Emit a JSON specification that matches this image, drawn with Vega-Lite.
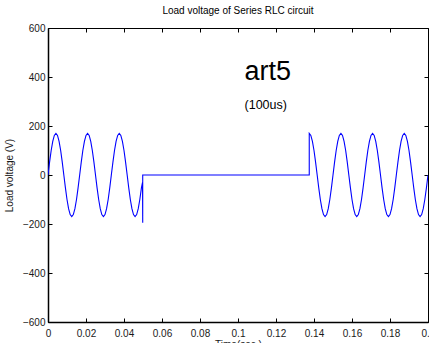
{
  "$schema": "https://vega.github.io/schema/vega-lite/v6.json",
  "autosize": "none",
  "width": 380,
  "height": 294,
  "padding": {"left": 48, "top": 28, "right": 1, "bottom": 21},
  "background": "white",
  "config": {
    "font": "Liberation Sans",
    "view": {"stroke": "black", "strokeWidth": 1},
    "axis": {
      "grid": false,
      "domain": false,
      "tickColor": "black",
      "tickSize": -4,
      "labelColor": "#1a1a1a",
      "titleColor": "#1a1a1a",
      "labelFontSize": 10,
      "titleFontSize": 10,
      "titleFontWeight": "normal",
      "labelFont": "Liberation Sans",
      "titleFont": "Liberation Sans"
    }
  },
  "title": {"text": "Load voltage of Series RLC circuit", "fontSize": 10, "fontWeight": "normal", "font": "Liberation Sans", "color": "black", "offset": 7},
  "layer": [
    {
      "data": {"values": [
        {"t":0,"v":0},{"t":0.00083,"v":52.5},{"t":0.00167,"v":99.9},{"t":0.0025,"v":137.5},{"t":0.00333,"v":161.7},{"t":0.00417,"v":170},{"t":0.005,"v":161.7},{"t":0.00583,"v":137.5},{"t":0.00667,"v":99.9},{"t":0.0075,"v":52.5},
        {"t":0.00833,"v":0},{"t":0.00917,"v":-52.5},{"t":0.01,"v":-99.9},{"t":0.01083,"v":-137.5},{"t":0.01167,"v":-161.7},{"t":0.0125,"v":-170},{"t":0.01333,"v":-161.7},{"t":0.01417,"v":-137.5},{"t":0.015,"v":-99.9},{"t":0.01583,"v":-52.5},
        {"t":0.01667,"v":0},{"t":0.0175,"v":52.5},{"t":0.01833,"v":99.9},{"t":0.01917,"v":137.5},{"t":0.02,"v":161.7},{"t":0.02083,"v":170},{"t":0.02167,"v":161.7},{"t":0.0225,"v":137.5},{"t":0.02333,"v":99.9},{"t":0.02417,"v":52.5},
        {"t":0.025,"v":0},{"t":0.02583,"v":-52.5},{"t":0.02667,"v":-99.9},{"t":0.0275,"v":-137.5},{"t":0.02833,"v":-161.7},{"t":0.02917,"v":-170},{"t":0.03,"v":-161.7},{"t":0.03083,"v":-137.5},{"t":0.03167,"v":-99.9},{"t":0.0325,"v":-52.5},
        {"t":0.03333,"v":0},{"t":0.03417,"v":52.5},{"t":0.035,"v":99.9},{"t":0.03583,"v":137.5},{"t":0.03667,"v":161.7},{"t":0.0375,"v":170},{"t":0.03833,"v":161.7},{"t":0.03917,"v":137.5},{"t":0.04,"v":99.9},{"t":0.04083,"v":52.5},
        {"t":0.04167,"v":0},{"t":0.0425,"v":-52.5},{"t":0.04333,"v":-99.9},{"t":0.04417,"v":-137.5},{"t":0.045,"v":-161.7},{"t":0.04583,"v":-170},{"t":0.04667,"v":-161.7},{"t":0.0475,"v":-137.5},{"t":0.04833,"v":-99.9},{"t":0.04917,"v":-52.5},
        {"t":0.04975,"v":-30},{"t":0.04985,"v":-195},{"t":0.04985,"v":0},{"t":0.1375,"v":0},
        {"t":0.1375,"v":170},{"t":0.13833,"v":161.7},{"t":0.13917,"v":137.5},{"t":0.14,"v":99.9},{"t":0.14083,"v":52.5},
        {"t":0.14167,"v":0},{"t":0.1425,"v":-52.5},{"t":0.14333,"v":-99.9},{"t":0.14417,"v":-137.5},{"t":0.145,"v":-161.7},{"t":0.14583,"v":-170},{"t":0.14667,"v":-161.7},{"t":0.1475,"v":-137.5},{"t":0.14833,"v":-99.9},{"t":0.14917,"v":-52.5},
        {"t":0.15,"v":0},{"t":0.15083,"v":52.5},{"t":0.15167,"v":99.9},{"t":0.1525,"v":137.5},{"t":0.15333,"v":161.7},{"t":0.15417,"v":170},{"t":0.155,"v":161.7},{"t":0.15583,"v":137.5},{"t":0.15667,"v":99.9},{"t":0.1575,"v":52.5},
        {"t":0.15833,"v":0},{"t":0.15917,"v":-52.5},{"t":0.16,"v":-99.9},{"t":0.16083,"v":-137.5},{"t":0.16167,"v":-161.7},{"t":0.1625,"v":-170},{"t":0.16333,"v":-161.7},{"t":0.16417,"v":-137.5},{"t":0.165,"v":-99.9},{"t":0.16583,"v":-52.5},
        {"t":0.16667,"v":0},{"t":0.1675,"v":52.5},{"t":0.16833,"v":99.9},{"t":0.16917,"v":137.5},{"t":0.17,"v":161.7},{"t":0.17083,"v":170},{"t":0.17167,"v":161.7},{"t":0.1725,"v":137.5},{"t":0.17333,"v":99.9},{"t":0.17417,"v":52.5},
        {"t":0.175,"v":0},{"t":0.17583,"v":-52.5},{"t":0.17667,"v":-99.9},{"t":0.1775,"v":-137.5},{"t":0.17833,"v":-161.7},{"t":0.17917,"v":-170},{"t":0.18,"v":-161.7},{"t":0.18083,"v":-137.5},{"t":0.18167,"v":-99.9},{"t":0.1825,"v":-52.5},
        {"t":0.18333,"v":0},{"t":0.18417,"v":52.5},{"t":0.185,"v":99.9},{"t":0.18583,"v":137.5},{"t":0.18667,"v":161.7},{"t":0.1875,"v":170},{"t":0.18833,"v":161.7},{"t":0.18917,"v":137.5},{"t":0.19,"v":99.9},{"t":0.19083,"v":52.5},
        {"t":0.19167,"v":0},{"t":0.1925,"v":-52.5},{"t":0.19333,"v":-99.9},{"t":0.19417,"v":-137.5},{"t":0.195,"v":-161.7},{"t":0.19583,"v":-170},{"t":0.19667,"v":-161.7},{"t":0.1975,"v":-137.5},{"t":0.19833,"v":-99.9},{"t":0.19917,"v":-52.5},
        {"t":0.2,"v":0}
      ]},
      "mark": {"type": "line", "color": "#0000ff", "strokeWidth": 1.1, "clip": true},
      "encoding": {
        "x": {"field": "t", "type": "quantitative", "scale": {"domain": [0, 0.2], "nice": false, "zero": false},
              "axis": {"title": "Time(sec.)", "format": "~g", "values": [0,0.02,0.04,0.06,0.08,0.1,0.12,0.14,0.16,0.18,0.2], "labelPadding": 10, "titlePadding": 1, "labelFlush": false, "labelOverlap": false, "domain": true, "domainColor": "black", "domainWidth": 1.5}},
        "y": {"field": "v", "type": "quantitative", "scale": {"domain": [-600, 600], "nice": false},
              "axis": {"title": "Load voltage (V)", "values": [-600,-400,-200,0,200,400,600], "labelPadding": 7, "titlePadding": 8, "labelFlush": false, "labelOverlap": false, "domain": true, "domainColor": "black", "domainWidth": 1.5}},
        "order": {"value": null}
      }
    },
    {
      "data": {"values": [
        {"t": 0.1157, "v": 388, "label": "art5", "size": 27},
        {"t": 0.1146, "v": 268, "label": "(100us)", "size": 12.5}
      ]},
      "mark": {"type": "text", "font": "Liberation Sans", "color": "black", "align": "center", "baseline": "alphabetic"},
      "encoding": {
        "x": {"field": "t", "type": "quantitative", "scale": {"domain": [0, 0.2], "nice": false, "zero": false},
              "axis": {"orient": "top", "title": null, "labels": false, "values": [0,0.02,0.04,0.06,0.08,0.1,0.12,0.14,0.16,0.18,0.2]}},
        "y": {"field": "v", "type": "quantitative", "scale": {"domain": [-600, 600], "nice": false},
              "axis": {"orient": "right", "title": null, "labels": false, "values": [-600,-400,-200,0,200,400,600]}},
        "text": {"field": "label"},
        "size": {"field": "size", "type": "quantitative", "scale": null, "legend": null}
      }
    }
  ],
  "resolve": {"axis": {"x": "independent", "y": "independent"}}
}
